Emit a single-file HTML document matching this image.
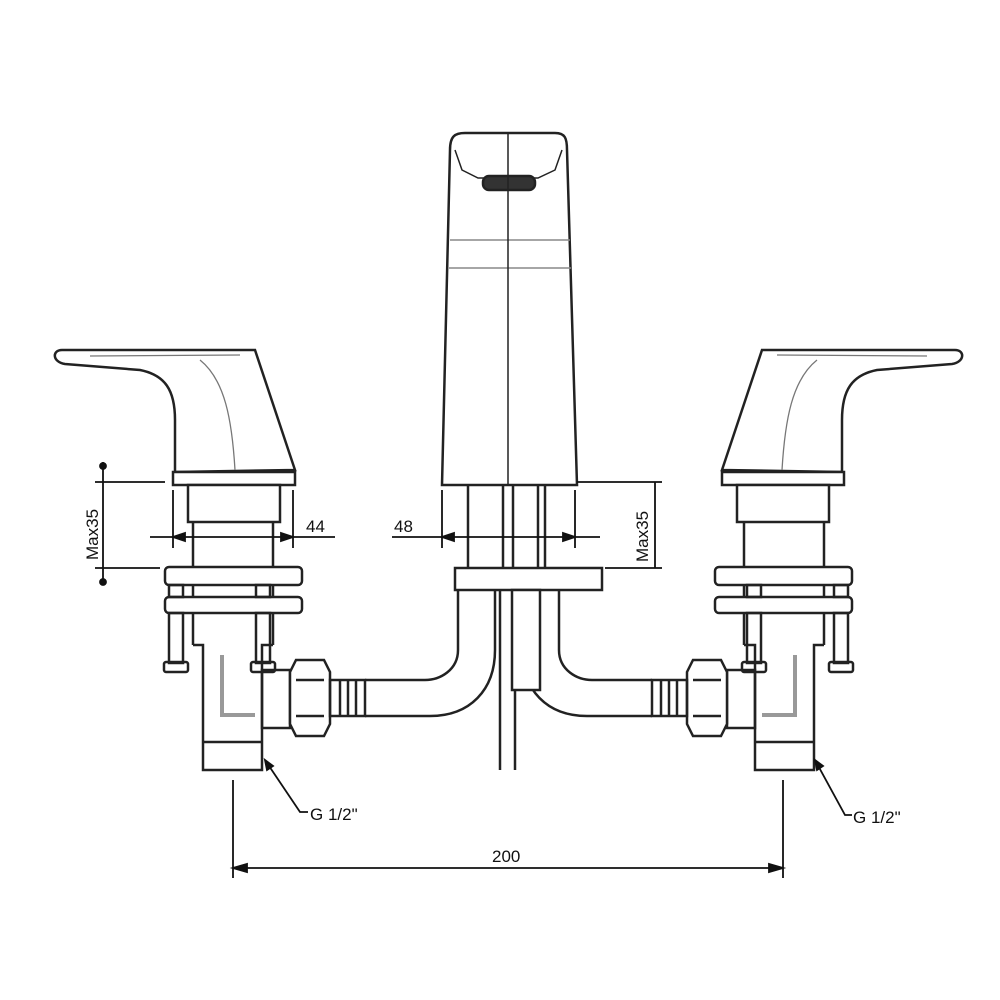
<!DOCTYPE html>
<html><head><style>body{margin:0;background:#fff}svg{display:block}</style></head><body>
<svg width="1000" height="1000" viewBox="0 0 1000 1000" xmlns="http://www.w3.org/2000/svg" font-family="Liberation Sans, sans-serif">
<defs>
<g id="side" fill="none" stroke="#222" stroke-width="2.5">
  <!-- handle -->
  <path d="M62,350 L255,350 L295,470 L175,472 L175,420 C175,390 165,375 140,370 L65,364 C52,362 52,350 62,350 Z" fill="#fff"/>
  <path d="M90,356 L240,355 M200,360 C225,380 232,420 235,470" stroke-width="1.3" stroke="#777"/>
  <rect x="173" y="472" width="122" height="13" fill="#fff"/>
  <rect x="188" y="485" width="92" height="37" fill="#fff"/>
  <line x1="193" y1="522" x2="193" y2="645"/><line x1="273" y1="522" x2="273" y2="645"/>
  <rect x="165" y="567" width="137" height="18" rx="4" fill="#fff"/>
  <rect x="165" y="597" width="137" height="16" rx="4" fill="#fff"/>
  <rect x="169" y="585" width="14" height="12"/><rect x="256" y="585" width="14" height="12"/>
  <rect x="169" y="613" width="14" height="50"/><rect x="256" y="613" width="14" height="50"/>
  <rect x="164" y="662" width="24" height="10" rx="2"/><rect x="251" y="662" width="24" height="10" rx="2"/>
  <path d="M193,645 L203,645 L203,770 L262,770 L262,645 L273,645" />
  <line x1="203" y1="742" x2="262" y2="742"/>
  <path d="M222,655 L222,715 L255,715" stroke="#999" stroke-width="4"/>
  <rect x="262" y="670" width="28" height="58"/>
  <path d="M290,672 L296,660 L324,660 L330,672 L330,724 L324,736 L296,736 L290,724 Z" fill="#fff"/>
  <line x1="296" y1="680" x2="324" y2="680"/><line x1="296" y1="716" x2="324" y2="716"/>
  <rect x="330" y="680" width="35" height="36"/>
  <line x1="340" y1="680" x2="340" y2="716"/><line x1="348" y1="680" x2="348" y2="716"/><line x1="356" y1="680" x2="356" y2="716"/>
  <path d="M365,680 L425,680 C440,680 458,670 458,650 L458,590 M365,716 L430,716 C470,716 495,690 495,650 L495,590"/>
</g>
</defs>
<use href="#side"/>
<use href="#side" transform="translate(1017,0) scale(-1,1)"/>
<g fill="none" stroke="#222" stroke-width="2.5">
  <!-- spout -->
  <path d="M450,150 C450,136 455,133 465,133 L555,133 C565,133 567,138 567,150 L577,485 L442,485 Z" fill="#fff"/>
  <path d="M455,150 L462,170 L478,178 L538,178 L555,170 L562,150" stroke-width="1.5"/>
  <rect x="483" y="176" width="52" height="14" rx="6" fill="#333"/>
  <line x1="450" y1="240" x2="570" y2="240" stroke="#888" stroke-width="1.5"/>
  <line x1="449" y1="268" x2="571" y2="268" stroke="#888" stroke-width="1.5"/>
  <line x1="508" y1="133" x2="508" y2="485" stroke-width="1.5"/>
  <line x1="468" y1="485" x2="468" y2="568"/>
  <line x1="503" y1="485" x2="503" y2="568"/><line x1="513" y1="485" x2="513" y2="568"/>
  <line x1="538" y1="485" x2="538" y2="568"/><line x1="545" y1="485" x2="545" y2="568"/>
  <rect x="455" y="568" width="147" height="22" fill="#fff"/>
  <rect x="512" y="590" width="28" height="100" fill="#fff"/>
  <line x1="500" y1="590" x2="500" y2="770"/><line x1="515" y1="690" x2="515" y2="770"/>
</g>
<g stroke="#111" stroke-width="1.8" fill="#111">
  <!-- Max35 left -->
  <line x1="103" y1="462" x2="103" y2="585"/>
  <line x1="95" y1="482" x2="165" y2="482"/><line x1="95" y1="568" x2="160" y2="568"/>
  <circle cx="103" cy="466" r="3"/><circle cx="103" cy="582" r="3"/>
  <!-- Max35 right -->
  <line x1="655" y1="482" x2="655" y2="568"/>
  <line x1="577" y1="482" x2="662" y2="482"/><line x1="605" y1="568" x2="662" y2="568"/>
  <!-- 44 -->
  <line x1="150" y1="537" x2="335" y2="537"/>
  <line x1="173" y1="490" x2="173" y2="548"/><line x1="293" y1="490" x2="293" y2="548"/>
  <path d="M173,537 l12,-4 v8 z M293,537 l-12,-4 v8 z"/>
  <!-- 48 -->
  <line x1="392" y1="537" x2="600" y2="537"/>
  <line x1="442" y1="490" x2="442" y2="548"/><line x1="575" y1="490" x2="575" y2="548"/>
  <path d="M442,537 l12,-4 v8 z M575,537 l-12,-4 v8 z"/>
  <!-- 200 -->
  <line x1="233" y1="780" x2="233" y2="878"/><line x1="783" y1="780" x2="783" y2="878"/>
  <line x1="233" y1="868" x2="783" y2="868"/>
  <path d="M233,868 l14,-4 v8 z M783,868 l-14,-4 v8 z"/>
  <!-- leaders -->
  <path d="M265,760 L300,812 L308,812" fill="none"/><path d="M265,760 l2,10 l6,-4 z"/>
  <path d="M815,760 L845,815 L852,815" fill="none"/><path d="M815,760 l2,10 l6,-4 z"/>
</g>
<g fill="#111" font-size="17">
  <text x="306" y="532">44</text>
  <text x="394" y="532">48</text>
  <text x="492" y="862">200</text>
  <text x="310" y="820">G 1/2"</text>
  <text x="853" y="823">G 1/2"</text>
  <text transform="translate(98,560) rotate(-90)">Max35</text>
  <text transform="translate(648,562) rotate(-90)">Max35</text>
</g>
</svg>
</body></html>
